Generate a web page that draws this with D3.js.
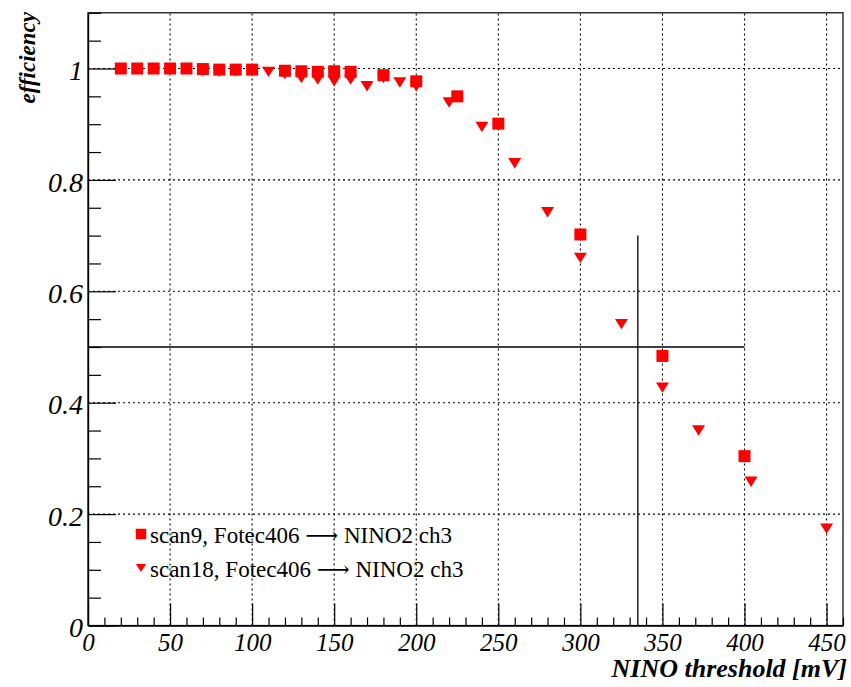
<!DOCTYPE html>
<html>
<head>
<meta charset="utf-8">
<script src="https://cdn.jsdelivr.net/npm/d3@7"></script>
<style>
  html, body { margin: 0; padding: 0; background: #ffffff; }
  svg { display: block; }
</style>
</head>
<body>
<svg id="chart" width="851" height="687"></svg>
<script>
// ---------------- data ----------------
const scan9X = [20, 30, 40, 50, 60, 70, 80, 90, 100, 120, 130, 140, 150, 160, 180, 200, 225, 250, 300, 350, 400];
const scan9Y = [1.0, 1.0, 1.0, 1.0, 1.0, 0.999, 0.998, 0.998, 0.998, 0.996, 0.995, 0.994, 0.995, 0.994, 0.988, 0.977, 0.950, 0.901, 0.702, 0.484, 0.304];

const scan18X = [70, 80, 90, 100, 110, 120, 130, 140, 150, 160, 170, 180, 190, 200, 220, 240, 260, 280, 300, 325, 350, 372, 404, 450];
const scan18Y = [0.995, 0.994, 0.995, 0.995, 0.994, 0.990, 0.983, 0.980, 0.977, 0.980, 0.968, 0.983, 0.975, 0.968, 0.939, 0.895, 0.830, 0.742, 0.660, 0.541, 0.427, 0.350, 0.258, 0.174];

const legendLabels = ["scan9, Fotec406 \u27F6 NINO2 ch3", "scan18, Fotec406 \u27F6 NINO2 ch3"];

const xMajorTicks = [0, 50, 100, 150, 200, 250, 300, 350, 400, 450];
const xTickLabels = ["0", "50", "100", "150", "200", "250", "300", "350", "400", "450"];
const yMajorTicks = [0, 0.2, 0.4, 0.6, 0.8, 1.0];
const yTickLabels = ["0", "0.2", "0.4", "0.6", "0.8", "1"];

const xDomain = [0, 460];
const yDomain = [0, 1.1];

// reference lines: 50% level up to 400 mV, threshold line at 335 mV up to 0.7
const halfLevel = [0.5];
const halfLevelXRange = [0, 400];
const thresholdX = [335];
const thresholdYRange = [0, 0.7];

const xTitle = "NINO threshold [mV]";
const yTitle = "efficiency";

// ---------------- layout ----------------
const svg = d3.select("#chart");
const L = 88, R = 843, T = 12.8, B = 625.5;
const x = d3.scaleLinear().domain(xDomain).range([L, R]);
const y = d3.scaleLinear().domain(yDomain).range([B, T]);

const xMinorTicks = d3.range(0, 461, 10).filter(v => v % 50 !== 0);
const yMinorTicks = d3.range(0, 23).map(i => +(i * 0.05).toFixed(2)).filter(v => Math.abs(v * 5 - Math.round(v * 5)) > 1e-6 && v <= 1.1);

const red = "#ff0000";
const serif = "'Liberation Serif', 'Times New Roman', 'DejaVu Serif', serif";

// grid
const grid = svg.append("g").attr("stroke", "#000").attr("stroke-width", 1.1).attr("stroke-dasharray", "2,3");
grid.selectAll("line.gx").data(xMajorTicks.filter(v => v > 0)).join("line")
  .attr("x1", d => x(d)).attr("x2", d => x(d)).attr("y1", B).attr("y2", T);
grid.selectAll("line.gy").data(yMajorTicks.filter(v => v > 0)).join("line")
  .attr("x1", L).attr("x2", R).attr("y1", d => y(d)).attr("y2", d => y(d));

// frame
svg.append("rect").attr("x", L).attr("y", T).attr("width", R - L).attr("height", B - T)
  .attr("fill", "none").attr("stroke", "#000").attr("stroke-width", 1.2);

// axes
function styleAxis(g) {
  g.selectAll("path.domain").attr("stroke", "#000").attr("stroke-width", 1.2);
  g.selectAll(".tick line").attr("stroke", "#000").attr("stroke-width", 1.2);
}
const xMinorAxis = svg.append("g").attr("transform", `translate(0,${B})`)
  .call(d3.axisBottom(x).tickValues(xMinorTicks).tickFormat("").tickSize(-8).tickSizeOuter(0));
styleAxis(xMinorAxis);
const xMajorAxis = svg.append("g").attr("transform", `translate(0,${B})`)
  .call(d3.axisBottom(x).tickValues(xMajorTicks).tickFormat((d, i) => xTickLabels[i]).tickSize(-22).tickSizeOuter(0).tickPadding(8));
styleAxis(xMajorAxis);
xMajorAxis.selectAll("text").attr("font-family", serif).attr("font-style", "italic")
  .attr("font-size", 25).attr("fill", "#000");

const yMinorAxis = svg.append("g").attr("transform", `translate(${L},0)`)
  .call(d3.axisLeft(y).tickValues(yMinorTicks).tickFormat("").tickSize(-13).tickSizeOuter(0));
styleAxis(yMinorAxis);
const yMajorAxis = svg.append("g").attr("transform", `translate(${L},0)`)
  .call(d3.axisLeft(y).tickValues(yMajorTicks).tickFormat((d, i) => yTickLabels[i]).tickSize(-28).tickSizeOuter(0).tickPadding(5));
styleAxis(yMajorAxis);
yMajorAxis.selectAll("text").attr("font-family", serif).attr("font-style", "italic")
  .attr("font-size", 28).attr("fill", "#000").attr("dy", "0.4em");

// reference lines
svg.selectAll("line.half").data(halfLevel).join("line").attr("class", "half")
  .attr("x1", x(halfLevelXRange[0])).attr("x2", x(halfLevelXRange[1]))
  .attr("y1", d => y(d)).attr("y2", d => y(d))
  .attr("stroke", "#000").attr("stroke-width", 1.3);
svg.selectAll("line.thr").data(thresholdX).join("line").attr("class", "thr")
  .attr("x1", d => x(d)).attr("x2", d => x(d))
  .attr("y1", y(thresholdYRange[0])).attr("y2", y(thresholdYRange[1]))
  .attr("stroke", "#000").attr("stroke-width", 1.3);

// markers
const triangleDown = {
  draw(ctx, size) {
    const w = Math.sqrt(size) * 1.15, h = w * 0.8;
    ctx.moveTo(-w / 2, -h / 2);
    ctx.lineTo(w / 2, -h / 2);
    ctx.lineTo(0, h / 2);
    ctx.closePath();
  }
};
const squareSym = d3.symbol().type(d3.symbolSquare).size(144);
const triSym = d3.symbol().type(triangleDown).size(128);

const s9 = scan9X.map((v, i) => ({ x: v, y: scan9Y[i] }));
const s18 = scan18X.map((v, i) => ({ x: v, y: scan18Y[i] }));

svg.append("g").selectAll("path").data(s9).join("path")
  .attr("d", squareSym).attr("transform", d => `translate(${x(d.x)},${y(d.y)})`).attr("fill", red);
svg.append("g").selectAll("path").data(s18).join("path")
  .attr("d", triSym).attr("transform", d => `translate(${x(d.x)},${y(d.y)})`).attr("fill", red);

// legend
const legend = svg.append("g");
const legY = [534, 568];
legend.append("path").attr("d", d3.symbol().type(d3.symbolSquare).size(110)).attr("transform", `translate(141,${legY[0]})`).attr("fill", red);
legend.append("path").attr("d", d3.symbol().type(triangleDown).size(80)).attr("transform", `translate(141,${legY[1]})`).attr("fill", red);
legend.selectAll("text").data(legendLabels).join("text")
  .attr("x", 150).attr("y", (d, i) => legY[i] + 9)
  .attr("font-family", serif).attr("font-size", 23).attr("fill", "#000")
  .text(d => d);

// titles
svg.append("text").attr("x", 847).attr("y", 677).attr("text-anchor", "end")
  .attr("font-family", serif).attr("font-style", "italic").attr("font-weight", "bold")
  .attr("font-size", 26).attr("fill", "#000").text(xTitle);
svg.append("text").attr("transform", "translate(35,12) rotate(-90)").attr("text-anchor", "end")
  .attr("font-family", serif).attr("font-style", "italic").attr("font-weight", "bold")
  .attr("font-size", 23).attr("fill", "#000").text(yTitle);
</script>
</body>
</html>
